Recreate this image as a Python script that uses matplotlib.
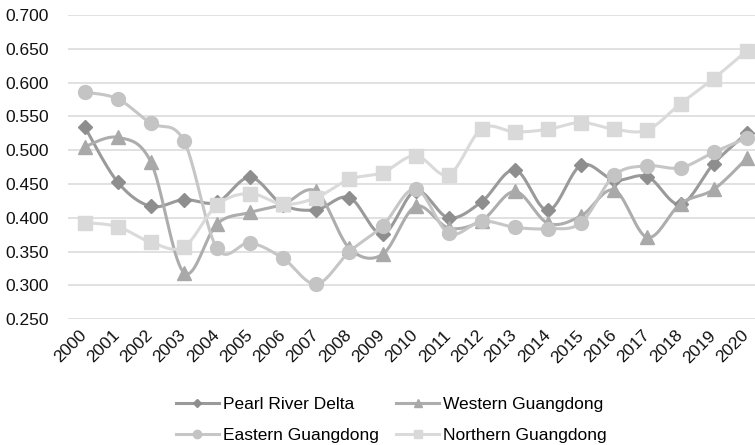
import numpy as np
import matplotlib
matplotlib.use('Agg')
from matplotlib import pyplot as plt
import matplotlib.transforms as mtrans

years = [str(y) for y in range(2000, 2021)]
pearl_river = [0.535, 0.453, 0.417, 0.427, 0.423, 0.460, 0.419, 0.412, 0.430, 0.376, 0.440,
               0.400, 0.424, 0.471, 0.411, 0.478, 0.456, 0.461, 0.420, 0.480, 0.525]
western = [0.505, 0.519, 0.483, 0.319, 0.391, 0.408, 0.420, 0.439, 0.355, 0.346, 0.417,
           0.385, 0.396, 0.439, 0.392, 0.403, 0.441, 0.371, 0.421, 0.442, 0.488]
eastern = [0.586, 0.576, 0.540, 0.514, 0.355, 0.363, 0.340, 0.302, 0.350, 0.388, 0.443,
           0.377, 0.395, 0.386, 0.384, 0.393, 0.463, 0.477, 0.474, 0.497, 0.518]
northern = [0.393, 0.387, 0.364, 0.357, 0.419, 0.436, 0.420, 0.430, 0.457, 0.467, 0.492,
            0.464, 0.532, 0.527, 0.531, 0.541, 0.531, 0.530, 0.569, 0.606, 0.647]

plt.rcParams['font.family'] = ['Liberation Sans', 'DejaVu Sans']


def smooth(x, y, n=20):
    # catmull-rom through every point, like a spreadsheet "smoothed line"
    x = np.asarray(x, float)
    y = np.asarray(y, float)
    px = np.concatenate([[x[0]], x, [x[-1]]])
    py = np.concatenate([[y[0]], y, [y[-1]]])
    xs, ys = [], []
    t = np.linspace(0, 1, n, endpoint=False)
    for i in range(1, len(px) - 2):
        p0x, p1x, p2x, p3x = px[i - 1], px[i], px[i + 1], px[i + 2]
        p0y, p1y, p2y, p3y = py[i - 1], py[i], py[i + 1], py[i + 2]
        c1x, c1y = p1x + (p2x - p0x) / 6, p1y + (p2y - p0y) / 6
        c2x, c2y = p2x - (p3x - p1x) / 6, p2y - (p3y - p1y) / 6
        b0, b1, b2, b3 = (1 - t) ** 3, 3 * (1 - t) ** 2 * t, 3 * (1 - t) * t ** 2, t ** 3
        xs.append(b0 * p1x + b1 * c1x + b2 * c2x + b3 * p2x)
        ys.append(b0 * p1y + b1 * c1y + b2 * c2y + b3 * p2y)
    xs.append([x[-1]])
    ys.append([y[-1]])
    return np.concatenate(xs), np.concatenate(ys)


fig = plt.figure(figsize=(7.55, 4.45), dpi=100)
ax = fig.add_axes([0.090, 0.2825, 0.921, 0.6838])

series = [
    ('Pearl River Delta', pearl_river, '#9a9a9a', '#8e8e8e', 'D', 7.5),
    ('Western Guangdong', western, '#adadad', '#a9a9a9', '^', 10),
    ('Eastern Guangdong', eastern, '#c6c6c6', '#c4c4c4', 'o', 10),
    ('Northern Guangdong', northern, '#dadada', '#d9d9d9', 's', 9.5),
]

xi = np.arange(len(years))
handles = {}
for z, (name, vals, lc, mc, mk, ms) in enumerate(series):
    sx, sy = smooth(xi, vals)
    ax.plot(sx, sy, color=lc, lw=2.2, zorder=3 + z, solid_capstyle='round')
    ax.plot(xi, vals, ls='none', marker=mk, ms=ms, color=mc, mec=mc, zorder=3 + z)
    h, = ax.plot([], [], color=lc, lw=2.2, marker=mk, ms=ms, mfc=mc, mec=mc)
    handles[name] = h

ax.set_xlim(-0.5, 20.5)
ax.set_ylim(0.25, 0.70)
ax.set_yticks(np.arange(0.25, 0.7001, 0.05))
ax.set_yticklabels(['%.3f' % v for v in np.arange(0.25, 0.7001, 0.05)])
ax.set_xticks(xi)
ax.grid(axis='y', color='#d9d9d9', lw=1.1, zorder=0)
ax.set_axisbelow(True)
for s in ax.spines.values():
    s.set_visible(False)
ax.tick_params(length=0, labelsize=12.5, colors='#111111')
ax.tick_params(axis='y', pad=14)
ax.tick_params(axis='x', pad=6)

# year labels at 45 degrees, nudged left so the last one stays inside
ax.set_xticklabels(years, rotation=45, ha='right', va='top', rotation_mode='anchor')
shift = mtrans.ScaledTranslation(-4 / 72, 0, fig.dpi_scale_trans)
for lab in ax.get_xticklabels():
    lab.set_transform(lab.get_transform() + shift)

order = ['Pearl River Delta', 'Eastern Guangdong', 'Western Guangdong', 'Northern Guangdong']
fig.legend([handles[k] for k in order], order, loc='center', bbox_to_anchor=(0.518, 0.057),
           ncol=2, frameon=False, fontsize=12.5, handlelength=2.5, handletextpad=0.2,
           columnspacing=1.0, labelspacing=0.9, markerscale=0.6)

fig.savefig('out.png', dpi=100)
